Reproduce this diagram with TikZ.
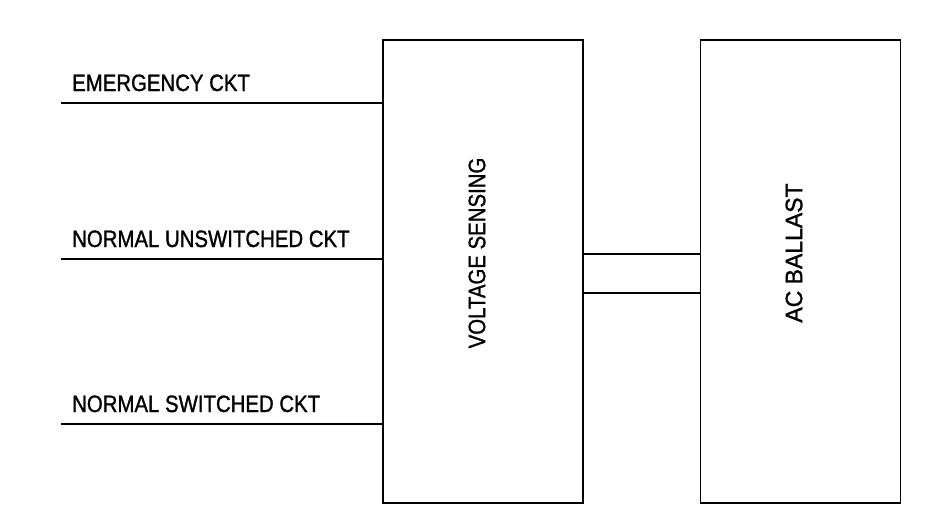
\documentclass[tikz,border=0pt]{standalone}
\usepackage{fontspec}
\setmainfont{Liberation Sans}
\newfontfamily\narrowfont[FakeStretch=0.86, FakeBold=1.2]{Liberation Sans}
\newfontfamily\widefont[FakeStretch=0.97, FakeBold=1.2]{Liberation Sans}
\usepackage{tikz}
\usetikzlibrary{positioning}
\tikzstyle{block} = [rectangle, draw=black, line width=1.6pt, minimum width=200pt, minimum height=463pt, inner sep=0pt]
\tikzstyle{wire}  = [line width=1.8pt]
\tikzstyle{ckt}   = [anchor=base west, inner sep=0pt, font=\narrowfont\fontsize{23.7}{28}\selectfont]
\tikzstyle{vlabel} = [rotate=90, inner sep=0pt, font=\narrowfont\fontsize{23.7}{28}\selectfont]

\begin{document}
\begin{tikzpicture}[x=1pt, y=-1pt] % 1pt = 1 pixel, y downwards
    \useasboundingbox (0,0) rectangle (933,520);
    % the two blocks
    \node (vs) [block] at (483,271.5) {};
    \node (ballast) [block, right=116pt of vs] {};
    \node (vstxt) [vlabel] at (477,253) {VOLTAGE SENSING};
    \node (baltxt) [vlabel, font=\widefont\fontsize{23.7}{28}\selectfont] at (794,253) {AC BALLAST};

    % free ends of the input circuits
    \coordinate (emg) at (61,103);
    \coordinate (unsw) at (61,259);
    \coordinate (sw) at (61,424);
    \draw [wire] (emg) -- (emg -| vs.west);
    \draw [wire] (unsw) -- (unsw -| vs.west);
    \draw [wire] (sw) -- (sw -| vs.west);
    \node (emgtxt) [ckt] at (72,91) {EMERGENCY CKT};
    \node (unswtxt) [ckt] at (72,247) {NORMAL UNSWITCHED CKT};
    \node (swtxt) [ckt] at (72,412) {NORMAL SWITCHED CKT};

    % link between the blocks
    \coordinate (linka) at (640,254);
    \coordinate (linkb) at (640,293);
    \draw [wire] (linka -| vs.east) -- (linka -| ballast.west);
    \draw [wire] (linkb -| vs.east) -- (linkb -| ballast.west);
\end{tikzpicture}
\end{document}
